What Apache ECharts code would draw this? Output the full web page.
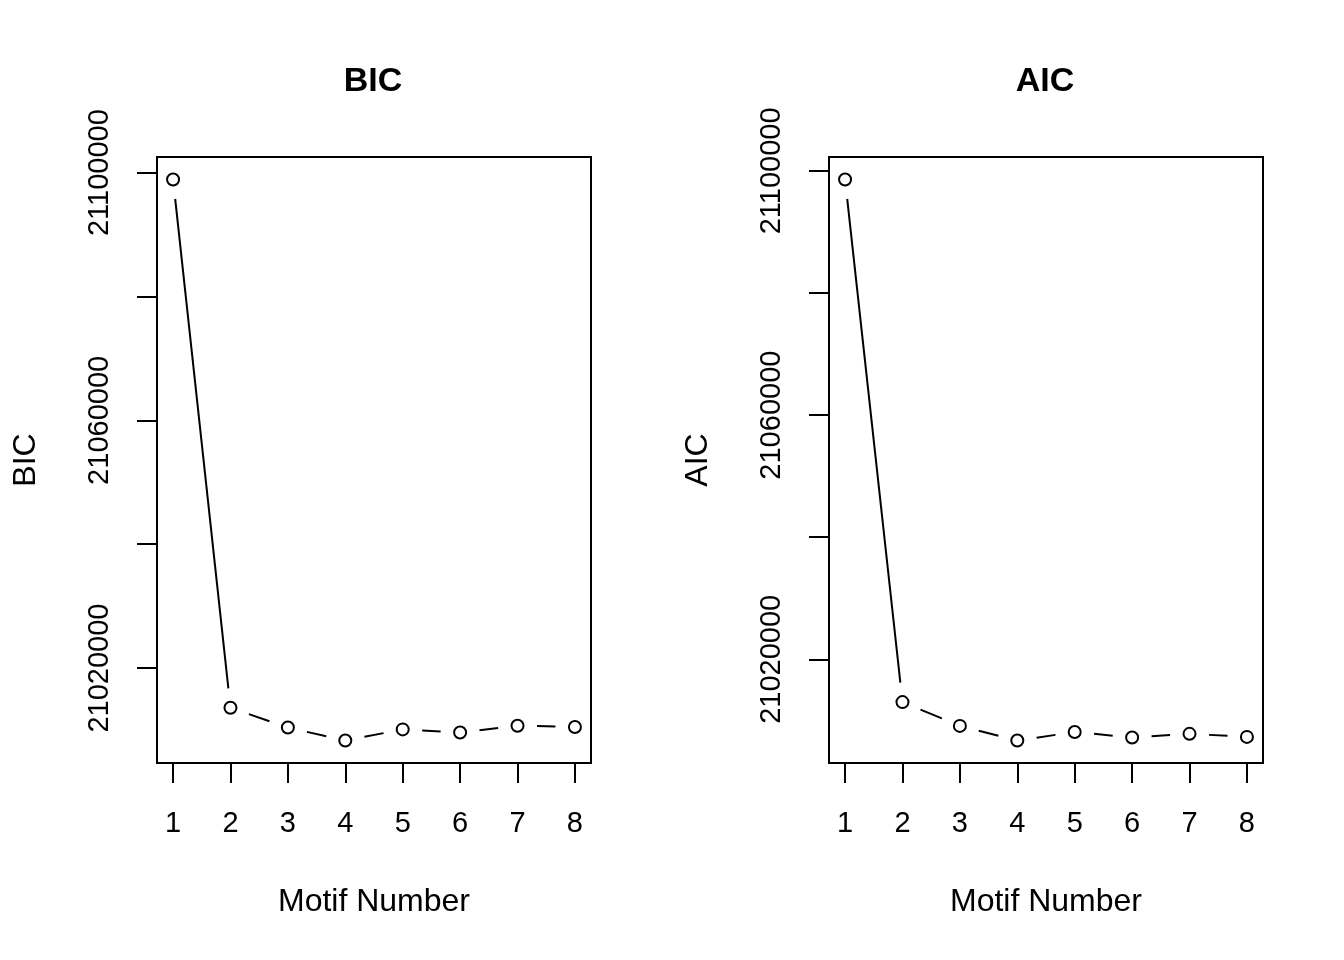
<!DOCTYPE html>
<html>
<head>
<meta charset="utf-8">
<script src="https://cdn.jsdelivr.net/npm/echarts@6/dist/echarts.min.js"></script>
<style>
  html, body { margin: 0; padding: 0; background: #fff; }
  #chart { width: 1344px; height: 960px; }
</style>
</head>
<body>
<div id="chart"></div>
<script>
// ---- data ----
const motifNumbers = [1, 2, 3, 4, 5, 6, 7, 8];
const bicValues = [21098900, 21013600, 21010400, 21008300, 21010100, 21009600, 21010700, 21010500];
const aicValues = [21098600, 21013000, 21009100, 21006700, 21008100, 21007200, 21007800, 21007300];
const xTicks = [1, 2, 3, 4, 5, 6, 7, 8];
const yTicks = [21020000, 21040000, 21060000, 21080000, 21100000];
const yTickLabels = [21020000, 21060000, 21100000];
const panelTitles = ['BIC', 'AIC'];
const xAxisTitle = 'Motif Number';

const FONT = 'Liberation Sans, Arial, Helvetica, sans-serif';
const GAP = 19.5;

const chart = echarts.init(document.getElementById('chart'), null, { renderer: 'canvas' });

function pts(vals) { return motifNumbers.map((m, i) => [m, vals[i]]); }
function segs(vals) {
  const out = [];
  for (let i = 0; i < motifNumbers.length - 1; i++) {
    out.push([motifNumbers[i], vals[i], motifNumbers[i + 1], vals[i + 1]]);
  }
  return out;
}

function renderSeg(params, api) {
  const p0 = api.coord([api.value(0), api.value(1)]);
  const p1 = api.coord([api.value(2), api.value(3)]);
  const dx = p1[0] - p0[0], dy = p1[1] - p0[1];
  const len = Math.sqrt(dx * dx + dy * dy);
  if (len <= 2 * GAP) return null;
  const ux = dx / len, uy = dy / len;
  return {
    type: 'line',
    shape: { x1: p0[0] + ux * GAP, y1: p0[1] + uy * GAP, x2: p1[0] - ux * GAP, y2: p1[1] - uy * GAP },
    style: { stroke: '#000', lineWidth: 2 }
  };
}

const grids = [
  { left: 157, top: 157, width: 434, height: 606 },
  { left: 829, top: 157, width: 434, height: 606 }
].map(g => Object.assign(g, { show: true, borderColor: '#000', borderWidth: 2, backgroundColor: 'transparent', containLabel: false }));

const xAxes = [0, 1].map(i => ({
  type: 'value', gridIndex: i, min: 0.72, max: 8.28,
  name: xAxisTitle, nameLocation: 'middle', nameGap: 123,
  nameTextStyle: { fontFamily: FONT, fontSize: 32, color: '#000', verticalAlign: 'top' },
  axisLine: { show: false },
  axisTick: { show: true, inside: false, length: 20, customValues: xTicks, lineStyle: { color: '#000', width: 2 } },
  axisLabel: { show: true, customValues: xTicks, margin: 46, fontFamily: FONT, fontSize: 29, color: '#000' },
  splitLine: { show: false }
}));

function padMin(v) { return v.min - 0.04 * (v.max - v.min); }
function padMax(v) { return v.max + 0.04 * (v.max - v.min); }

const yAxes = [0, 1].map(i => ({
  type: 'value', gridIndex: i, min: padMin, max: padMax, scale: true,
  name: panelTitles[i], nameLocation: 'middle', nameGap: 115, nameRotate: 90,
  nameTextStyle: { fontFamily: FONT, fontSize: 32, color: '#000' },
  axisLine: { show: false },
  axisTick: { show: true, inside: false, length: 20, customValues: yTicks, lineStyle: { color: '#000', width: 2 } },
  axisLabel: { show: true, customValues: yTickLabels, rotate: 90, margin: 43, fontFamily: FONT, fontSize: 29, color: '#000',
    formatter: v => String(v) },
  splitLine: { show: false }
}));

const seriesData = [bicValues, aicValues];
const series = [];
[0, 1].forEach(i => {
  series.push({
    type: 'custom', xAxisIndex: i, yAxisIndex: i, coordinateSystem: 'cartesian2d',
    renderItem: renderSeg, data: segs(seriesData[i]),
    encode: { x: [0, 2], y: [1, 3] }, silent: true, animation: false, z: 2
  });
  series.push({
    type: 'scatter', xAxisIndex: i, yAxisIndex: i, data: pts(seriesData[i]),
    symbol: 'circle', symbolSize: 12,
    itemStyle: { color: '#fff', borderColor: '#000', borderWidth: 2, opacity: 1 },
    emphasis: { disabled: true }, silent: true, animation: false, z: 3
  });
});

chart.setOption({
  backgroundColor: '#fff',
  animation: false,
  title: panelTitles.map((t, i) => ({
    text: t, left: (i === 0 ? 368 : 1040), top: 60, textAlign: 'center',
    textStyle: { fontFamily: FONT, fontSize: 34, fontWeight: 'bold', color: '#000' }
  })),
  grid: grids,
  xAxis: xAxes,
  yAxis: yAxes,
  series: series
});
</script>
</body>
</html>
